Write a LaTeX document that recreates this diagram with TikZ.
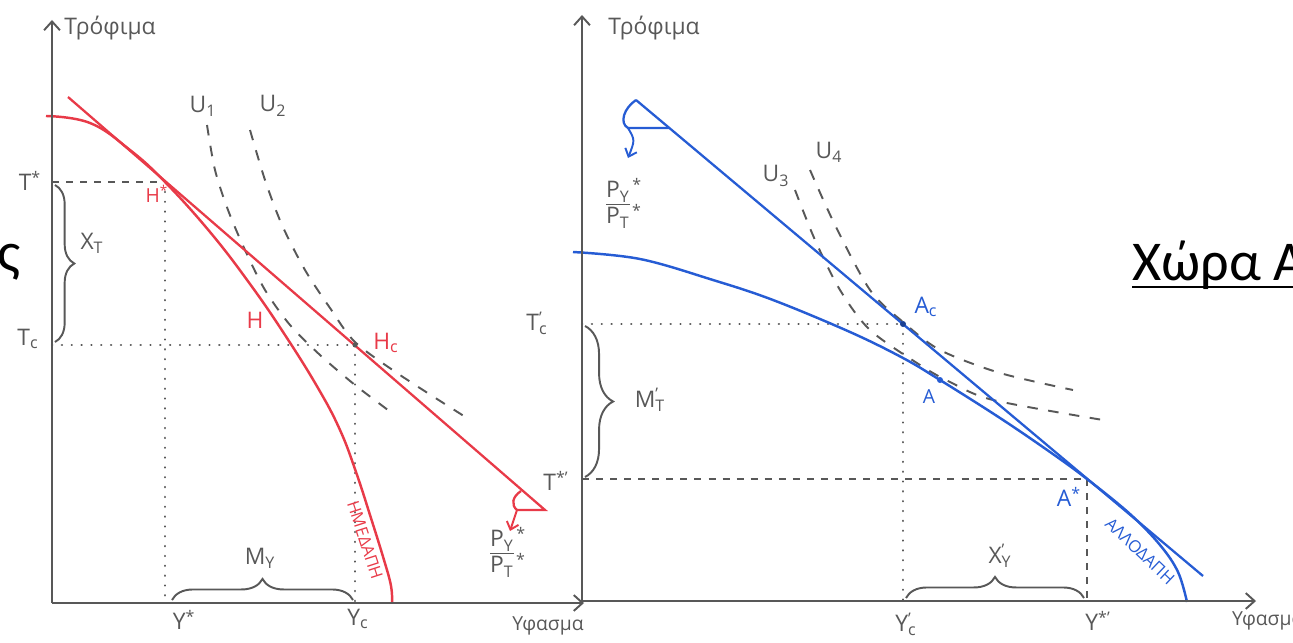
\documentclass[tikz,border=0pt]{standalone}
\usepackage{fontspec}
\setmainfont{Open Sans}
\newfontfamily\titlefont{Carlito}
\usepackage{tikz}
\usetikzlibrary{arrows.meta,decorations.pathreplacing}
\definecolor{inkgray}{RGB}{88,88,88}
\definecolor{penred}{RGB}{232,58,72}
\definecolor{penblue}{RGB}{38,92,212}
\newcommand{\supsub}[2]{\rlap{\textsuperscript{#1}}\textsubscript{#2}}

\begin{document}
\begin{tikzpicture}[x=0.02cm, y=-0.02cm,
    axis/.style={draw=inkgray, line width=1.1pt, -{Straight Barb[length=5pt,width=9pt]}},
    ppf/.style={line width=1.4pt},
    budget/.style={line width=1.3pt},
    indiff/.style={draw=inkgray, line width=1.1pt, dash pattern=on 6pt off 6pt},
    guide/.style={draw=inkgray, line width=1.3pt, line cap=round, dash pattern=on 0.1pt off 5.5pt},
    guidedash/.style={draw=inkgray, line width=1.1pt, dash pattern=on 4pt off 4pt},
    curly/.style={draw=inkgray, line width=1.1pt, decorate, decoration={brace, amplitude=#1}},
    lbl/.style={text=inkgray, font=\fontsize{13}{15}\selectfont, inner sep=1pt},
    tiny lbl/.style={font=\fontsize{9.5}{11}\selectfont, inner sep=0pt},
    pt/.style={circle, fill, inner sep=1.5pt},
    tick/.style={-{Straight Barb[length=4pt,width=7pt]}, line width=1.1pt}
]
\useasboundingbox (0,0) rectangle (1293,642);

% left panel: domestic
\coordinate (O1) at (52,603);
\coordinate (T1top) at (52,20);
\coordinate (Y1end) at (584,603);
\coordinate (Ts) at (52,182);
\coordinate (Tc) at (52,345);
\coordinate (Hs) at (165,182);
\coordinate (Hc) at (355,345);
\coordinate (Ys) at (165,603);
\coordinate (Yc) at (355,603);
\coordinate (R0) at (68,97);
\coordinate (R1) at (545,510);
\coordinate (R2) at (517,510);
\coordinate (R3) at (521,491);
\coordinate (R4) at (510,531);

\draw[guidedash] (Ts) -- (Hs);
\draw[guide] (Hs) -- (Ys);
\draw[guide] (Tc) -- (Hc);
\draw[guide] (Hc) -- (Yc);

\draw[indiff] plot[smooth] coordinates {(207,125) (215,170) (228,210) (245,250) (265,290) (290,325) (320,355) (355,385) (392,413)};
\draw[indiff] plot[smooth] coordinates {(250,130) (265,180) (282,225) (305,270) (330,308) (355,342) (400,375) (467,418)};

\draw[penred, ppf] plot[smooth, tension=0.7] coordinates {(46,116) (90,123) (130,150) (165,182) (210,232) (250,284) (285,335) (318,388) (340,430) (356,472) (370,515) (384,560) (391,586) (392,603)};
\draw[penred, budget] (R0) -- (R1) -- (R2);
\draw[penred, budget] (R3) .. controls (512,497) and (511,505) .. (R2);
\draw[penred, tick] (R2) -- (R4);
\fill[inkgray] (Hc) circle (2.5);

\draw[axis] (O1) -- (T1top);
\draw[axis] (O1) -- (Y1end);

\draw[curly=11pt] (55,185) -- (55,342);
\draw[curly=12pt] (172,600) -- (353,600);

\node[lbl] (axT1) at (110,28) {Τρόφιμα};
\node[lbl] (axY1) at (548,626) {\fontsize{11}{13}\selectfont Υφασμα};
\node[lbl] (lTs) at (30,181) {T\textsuperscript{*}};
\node[lbl] (lTc) at (28,339) {T\textsubscript{c}};
\node[lbl] (lXT) at (92,243) {X\textsubscript{T}};
\node[lbl] (lYs) at (184,620) {Y\textsuperscript{*}};
\node[lbl] (lYc) at (358,619) {Y\textsubscript{c}};
\node[lbl] (lMY) at (260,558) {M\textsubscript{Y}};
\node[lbl] (lU1) at (203,106) {U\textsubscript{1}};
\node[lbl] (lU2) at (273,106) {U\textsubscript{2}};
\node[lbl, text=penred] (lHs) at (157,194) {\fontsize{11}{13}\selectfont H\textsuperscript{*}};
\node[lbl, text=penred] (lH) at (255,320) {H};
\node[lbl, text=penred] (lHc) at (386,343) {H\textsubscript{c}};
\node[tiny lbl, text=penred, rotate=-72] (lDom) at (365,540) {ΗΜΕΔΑΠΗ};
\node[lbl] (lRatio1) at (508,554) {\begin{tabular}{@{}l@{}}\underline{P\textsubscript{Y}}\textsuperscript{\,*}\\[-1pt]P\textsubscript{T}\textsuperscript{\,*}\end{tabular}};

% right panel: foreign
\coordinate (O2) at (582,601);
\coordinate (T2top) at (582,15);
\coordinate (Y2end) at (1256,601);
\coordinate (Tcp) at (582,324);
\coordinate (Tsp) at (582,479);
\coordinate (Ac) at (903,324);
\coordinate (A) at (940,380);
\coordinate (As) at (1087,479);
\coordinate (Ycp) at (903,601);
\coordinate (Ysp) at (1087,601);
\coordinate (B0) at (636,100);
\coordinate (B1) at (1203,576);
\coordinate (B2) at (628,128);
\coordinate (B3) at (669,128);
\coordinate (B4) at (628,158);

\draw[guide] (Tcp) -- (Ac);
\draw[guide] (Ac) -- (Ycp);
\draw[guidedash] (Tsp) -- (As);
\draw[guidedash] (As) -- (Ysp);

\draw[indiff] plot[smooth] coordinates {(795,190) (815,240) (840,290) (870,330) (920,365) (950,382) (993,400) (1103,420)};
\draw[indiff] plot[smooth] coordinates {(810,170) (835,225) (870,290) (903,322) (940,350) (1000,373) (1073,390)};

\draw[penblue, ppf] plot[smooth, tension=0.6] coordinates {(573,252) (640,259) (713,280) (773,300) (850,332) (903,358) (940,380) (1000,418) (1050,452) (1087,479) (1130,514) (1160,545) (1178,572) (1187,602)};
\draw[penblue, budget] (B0) -- (B1);
\draw[penblue, budget] (B0) .. controls (624,108) and (619,123) .. (B2) -- (B3);
\draw[penblue, tick] (B2) .. controls (635,140) .. (B4);
\fill[penblue!70!black] (Ac) circle (3);
\fill[penblue] (A) circle (3);

\draw[axis] (O2) -- (T2top);
\draw[axis] (O2) -- (Y2end);

\draw[curly=16pt] (585,326) -- (585,477);
\draw[curly=12pt] (906,598) -- (1084,598);

\node[lbl] (axT2) at (654,28) {Τρόφιμα};
\node[lbl, anchor=west] (axY2) at (1230,621) {\fontsize{11}{13}\selectfont Υφασμα};
\node[lbl] (lTcp) at (537,323) {T\supsub{'}{c}};
\node[lbl] (lTsp) at (556,481) {T\textsuperscript{*'}};
\node[lbl] (lMT) at (650,400) {M\supsub{'}{T}};
\node[lbl] (lYcp) at (906,624) {Y\supsub{'}{c}};
\node[lbl] (lYsp) at (1098,621) {Y\textsuperscript{*'}};
\node[lbl] (lXY) at (1000,556) {X\supsub{'}{Y}};
\node[lbl] (lU3) at (776,176) {U\textsubscript{3}};
\node[lbl] (lU4) at (829,152) {U\textsubscript{4}};
\node[lbl, text=penblue] (lAc) at (926,307) {A\textsubscript{c}};
\node[lbl, text=penblue] (lA) at (929,397) {\fontsize{11}{13}\selectfont A};
\node[lbl, text=penblue] (lAs) at (1069,497) {A\textsuperscript{*}};
\node[tiny lbl, text=penblue, rotate=-43.5] (lFor) at (1140,551) {ΑΛΛΟΔΑΠΗ};
\node[lbl] (lRatio2) at (624,205) {\begin{tabular}{@{}l@{}}\underline{P\textsubscript{Y}}\textsuperscript{\,*}\\[-1pt]P\textsubscript{T}\textsuperscript{\,*}\end{tabular}};

% country titles
\node[anchor=base west, inner sep=0pt, font=\titlefont\fontsize{32}{36}\selectfont] (title) at (1132,280) {Χώρα Α};
\draw[line width=1.2pt] (title.base west) ++(0,7) coordinate (ulA) -- (1300,287);
\node[anchor=base east, inner sep=0pt, font=\titlefont\fontsize{32}{36}\selectfont] (titleL) at (21,271) {ς};
\end{tikzpicture}
\end{document}
